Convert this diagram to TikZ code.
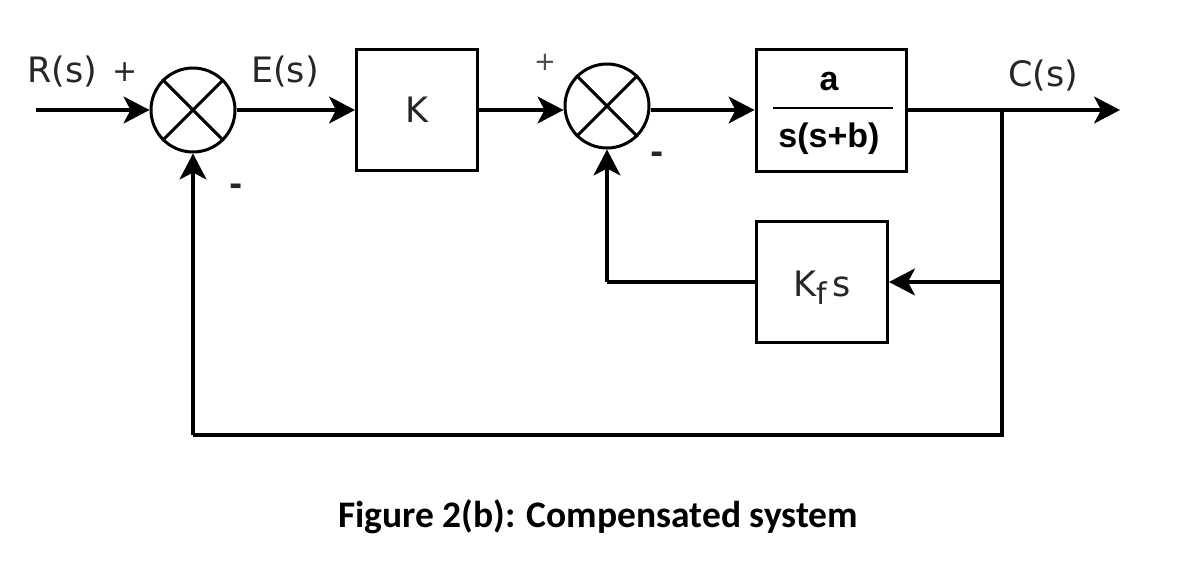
\documentclass[tikz,border=0pt]{standalone}
\usepackage{fontspec}
\setmainfont{DejaVu Sans}
\newfontfamily\capfont{Carlito}
\newfontfamily\fracfont{Liberation Sans}
\usetikzlibrary{arrows.meta}
\tikzset{
  lbl/.style={font=\fontsize{35}{38}\selectfont, inner sep=0pt, text=black!85},
  blk/.style={draw, line width=3pt, rectangle, inner sep=0pt},
  sumj/.style={draw, line width=3pt, circle, minimum size=84pt, inner sep=0pt},
  conn/.style={line width=3.2pt},
  arr/.style={conn, -{Stealth[length=26pt,width=27pt,inset=7pt]}}
}
\begin{document}
\begin{tikzpicture}[x=1pt,y=-1pt]
\useasboundingbox (0,0) rectangle (1200,563);
% nodes
\coordinate (in) at (36,110);
\node[sumj] (s1) at (193,110) {};
\draw[line width=3pt] (s1.45) -- (s1.225) (s1.135) -- (s1.315);
\node[blk, minimum width=121pt, minimum height=121pt, lbl] (K) at (417,110) {K};
\node[sumj] (s2) at (607,106) {};
\draw[line width=3pt] (s2.45) -- (s2.225) (s2.135) -- (s2.315);
\node[blk, minimum width=150pt, minimum height=122pt] (G) at (831,110) {};
\node[font=\fracfont\bfseries\fontsize{34}{36}\selectfont, inner sep=0pt] (Gn) at (829,82) {a};
\node[font=\fracfont\bfseries\fontsize{34}{36}\selectfont, inner sep=0pt] (Gd) at (829,139) {s(s+b)};
\draw[line width=2.5pt] (773,108) -- (893,108);
\node[blk, minimum width=131pt, minimum height=121pt] (Kf) at (822,282) {};
\node[lbl, anchor=base] (Kft) at (822,296) {K\raisebox{-0.45ex}{\fontsize{30}{32}\selectfont f}\,s};
\coordinate (out) at (1120,110);
\coordinate (br) at (1002,110);
\coordinate (brk) at (1002,282);
\coordinate (bot) at (1002,435);
\coordinate (botl) at (193,435);
\coordinate (kfl) at (607,282);
% connectors
\draw[arr] (in) -- (s1.west);
\draw[arr] (s1.east) -- (K.west);
\draw[arr] (K.east) -- (s2.west |- K.east);
\draw[arr] (s2.east |- G.west) -- (G.west);
\draw[arr] (G.east) -- (out);
\draw[conn] (br) -- (bot) -- (botl);
\draw[arr] (botl) -- (s1.south);
\draw[arr] (brk) -- (Kf.east);
\draw[conn] (Kf.west) -- (kfl);
\draw[arr] (kfl) -- (s2.south);
% labels
\node[lbl] (lR) at (62,72) {R(s)};
\node[lbl, font=\fontsize{30}{32}\selectfont] (lp1) at (125,72) {+};
\node[lbl] (lE) at (285,72) {E(s)};
\node[lbl, font=\bfseries\fontsize{32}{34}\selectfont] (lm1) at (236,190) {-};
\node[lbl, text=black!70, font=\fontsize{26}{28}\selectfont] (lp2) at (545,62) {+};
\node[lbl, font=\bfseries\fontsize{32}{34}\selectfont] (lm2) at (657,158) {-};
\node[lbl] (lC) at (1043,76) {C(s)};
\node[font=\capfont\bfseries\fontsize{37.5}{40}\selectfont, inner sep=0pt] (cap) at (598,517) {Figure 2(b): Compensated system};
\end{tikzpicture}
\end{document}
